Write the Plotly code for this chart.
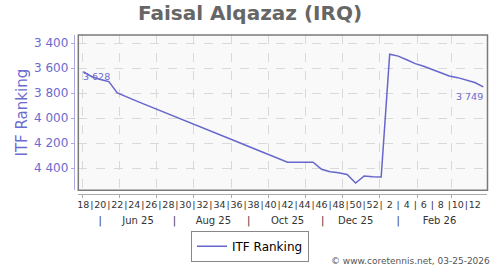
import pandas as pd
import plotly.graph_objects as go

# ---- data ----
weeks = [18, 19, 20, 21, 22, 23, 24, 25, 26, 27, 28, 29, 30, 31, 32, 33, 34, 35,
         36, 37, 38, 39, 40, 41, 42, 43, 44, 45, 46, 47, 48, 49, 50, 51, 52,
         1, 2, 3, 4, 5, 6, 7, 8, 9, 10, 11, 12, 13]
ranking = [3628, 3668, 3690, 3707, 3797, 3828, 3855, 3883, 3910, 3938, 3966, 3993,
           4021, 4048, 4076, 4104, 4131, 4159, 4186, 4214, 4242, 4269, 4297, 4324,
           4352, 4352, 4352, 4352, 4408, 4428, 4435, 4450, 4518, 4462, 4468, 4470,
           3488, 3503, 3532, 3563, 3584, 3612, 3640, 3662, 3675, 3694, 3714, 3749]
first_date = "2025-05-02"
dates = pd.date_range(first_date, periods=len(ranking), freq="7D")

week_labels = [str(w) if w % 2 == 0 else ("|" if i < len(weeks) - 1 else "")
               for i, w in enumerate(weeks)]

month_tick_dates = ["2025-05-16", "2025-06-16", "2025-07-16", "2025-08-17",
                    "2025-09-15", "2025-10-17", "2025-11-15", "2025-12-12",
                    "2026-01-16", "2026-02-19"]
month_tick_labels = ["|", "Jun 25", "|", "Aug 25", "|", "Oct 25", "|", "Dec 25",
                     "|", "Feb 26"]

y_ticks = [3400, 3600, 3800, 4000, 4200, 4400]

# ---- styling ----
FONT = "DejaVu Sans"
LINE_C = "#6666cc"
LABEL_C = "#6b6bd0"
GRID_C = "#d9d9d9"

x_range = [dates[0] - pd.Timedelta(hours=4.1 * 24), dates[-1] + pd.Timedelta(hours=3.45 * 24)]
x_dom = [0.04276, 0.99883]

fig = go.Figure()
fig.add_trace(go.Scatter(
    x=dates, y=ranking, mode="lines", name="ITF Ranking",
    line=dict(color=LINE_C, width=1.5), xaxis="x", yaxis="y",
))
# invisible companions so the label-only axes get rendered
for ax in ("x2", "x3"):
    fig.add_trace(go.Scatter(x=dates, y=ranking, mode="lines", xaxis=ax, yaxis="y",
                             line=dict(width=0, color="rgba(0,0,0,0)"),
                             showlegend=False, hoverinfo="skip"))

def fmt(v):
    return f"{v:,}".replace(",", " ")

fig.add_annotation(x=dates[0], y=ranking[0], xref="x", yref="y", text=fmt(ranking[0]),
                   showarrow=False, xanchor="left", yanchor="middle", yshift=-5, xshift=-2,
                   font=dict(family=FONT, size=9.5, color=LABEL_C))
fig.add_annotation(x=dates[-1], y=ranking[-1], xref="x", yref="y", text=fmt(ranking[-1]),
                   showarrow=False, xanchor="right", yanchor="middle", yshift=-10, xshift=2,
                   font=dict(family=FONT, size=9.5, color=LABEL_C))
fig.add_annotation(x=1.010, y=0.0066, xref="paper", yref="paper",
                   text="© www.coretennis.net, 03-25-2026", showarrow=False,
                   xanchor="right", yanchor="middle",
                   font=dict(family=FONT, size=9, color="#555555"))

fig.add_shape(type="rect", xref="x domain", yref="y domain", x0=0, x1=1, y0=0, y1=1,
              line=dict(color="#7a7a7a", width=1.5), layer="above")

fig.update_layout(
    width=500, height=270,
    margin=dict(l=60, r=12, t=35, b=8),
    paper_bgcolor="white", plot_bgcolor="#f9f9f9",
    separators=". ",
    font=dict(family=FONT, color="#333333"),
    title=dict(text="Faisal Alqazaz (IRQ)", x=0.5, xref="container", xanchor="center",
               y=1 - 12.5 / 270, yref="container", yanchor="middle",
               font=dict(family=FONT, size=20, color="#666666", weight="bold")),
    showlegend=True,
    legend=dict(x=0.4439, y=0.0692, xanchor="center", yanchor="middle",
                orientation="h", bordercolor="#888888", borderwidth=1, bgcolor="white",
                font=dict(family=FONT, size=12, color="#000000")),
    xaxis=dict(type="date", domain=x_dom, anchor="free", position=0.2982, range=x_range,
               showgrid=True, gridcolor=GRID_C, griddash="dash", gridwidth=1,
               tickmode="linear", tick0="2025-05-01", dtick="M1",
               ticks="outside", ticklen=3, tickcolor="#aaaaaa", showticklabels=False,
               showline=True, linecolor="#aaaaaa", linewidth=1, zeroline=False),
    xaxis2=dict(type="date", domain=x_dom, anchor="free", position=0.2982, range=x_range,
                overlaying="x", showgrid=False, tickmode="array", tickvals=list(dates),
                ticktext=week_labels, ticks="", tickangle=0, showline=False,
                ticklabelstandoff=3,
                tickfont=dict(family=FONT, size=9.5, color="#333333")),
    xaxis3=dict(type="date", domain=x_dom, anchor="free", position=0.2203, range=x_range,
                overlaying="x", showgrid=False, tickmode="array", tickvals=month_tick_dates,
                ticktext=month_tick_labels, ticks="", tickangle=0, showline=False,
                ticklabelstandoff=1,
                tickfont=dict(family=FONT, size=10, color="#333333")),
    yaxis=dict(domain=[0.3159, 1], anchor="free", position=0.0322,
               range=[4576, 3334], tickmode="array", tickvals=y_ticks, tickformat=",d",
               showgrid=True, gridcolor=GRID_C, griddash="dash", gridwidth=1,
               ticks="outside", ticklen=3, tickcolor="#aaaadd",
               showline=True, linecolor="#aaaadd", linewidth=1, zeroline=False,
               tickfont=dict(family=FONT, size=12, color=LABEL_C),
               title=dict(text="ITF Ranking", standoff=1,
                          font=dict(family=FONT, size=15, color=LABEL_C))),
)

fig.write_html("out.html")
